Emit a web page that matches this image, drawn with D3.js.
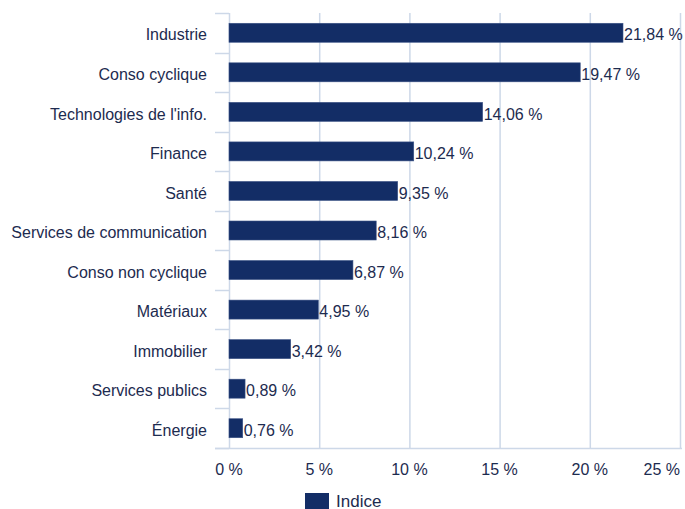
<!DOCTYPE html>
<html>
<head>
<meta charset="utf-8">
<script src="https://cdn.jsdelivr.net/npm/d3@7"></script>
<style>
  body { margin: 0; background: #fff; }
  text { font-family: "Liberation Sans", Arial, sans-serif; }
</style>
</head>
<body>
<svg id="container"></svg>
<script>
/* CONSTANTS AND GLOBALS */
const width = 685,
  height = 509,
  margin = { top: 13, right: 5, bottom: 61, left: 229 };

const navy = "#132d66",
  gridColor = "#cdd8e8",
  textColor = "#1d2b4f";

/* DATA */
const sectors = ["Industrie", "Conso cyclique", "Technologies de l'info.", "Finance", "Santé",
  "Services de communication", "Conso non cyclique", "Matériaux", "Immobilier",
  "Services publics", "Énergie"];
const weights = [21.84, 19.47, 14.06, 10.24, 9.35, 8.16, 6.87, 4.95, 3.42, 0.89, 0.76];
const xTicks = [0, 5, 10, 15, 20, 25];
const seriesName = "Indice";

const data = sectors.map((s, i) => ({ sector: s, value: weights[i] }));
const fmt = v => v.toFixed(2).replace(".", ",") + " %";

/* SCALES */
const xScale = d3.scaleLinear()
  .domain([0, 25])
  .range([margin.left, 680]);

const yScale = d3.scaleBand()
  .domain(sectors)
  .range([margin.top, 448])
  .paddingInner(0.52)
  .paddingOuter(0.26);

/* HTML ELEMENTS */
const svg = d3.select("#container")
  .attr("width", width)
  .attr("height", height);

// vertical gridlines
svg.append("g")
  .selectAll("line")
  .data(xTicks)
  .join("line")
  .attr("x1", d => xScale(d) + 0.5)
  .attr("x2", d => xScale(d) + 0.5)
  .attr("y1", margin.top)
  .attr("y2", 448)
  .attr("stroke", gridColor)
  .attr("stroke-width", 1.5);

// category boundary ticks on the left
const bounds = sectors.map(s => yScale(s) - yScale.step() * yScale.paddingInner() / 2)
  .concat([448]);
svg.append("g")
  .selectAll("line")
  .data(bounds)
  .join("line")
  .attr("x1", 215)
  .attr("x2", xScale(0))
  .attr("y1", d => Math.round(d) + 0.5)
  .attr("y2", d => Math.round(d) + 0.5)
  .attr("stroke", gridColor)
  .attr("stroke-width", 1.5);

// bottom baseline
svg.append("line")
  .attr("x1", 215)
  .attr("x2", xScale(25) + 2)
  .attr("y1", 448.5)
  .attr("y2", 448.5)
  .attr("stroke", gridColor)
  .attr("stroke-width", 1.5);

// bars
svg.append("g")
  .selectAll("rect")
  .data(data)
  .join("rect")
  .attr("x", xScale(0))
  .attr("y", d => yScale(d.sector))
  .attr("width", d => xScale(d.value) - xScale(0))
  .attr("height", yScale.bandwidth())
  .attr("fill", navy)
  .attr("stroke", "#3a5285")
  .attr("stroke-width", 0.6);

// value labels
svg.append("g")
  .selectAll("text")
  .data(data)
  .join("text")
  .attr("x", d => xScale(d.value) + 1)
  .attr("y", d => yScale(d.sector) + yScale.bandwidth() / 2)
  .attr("dy", "0.48em")
  .attr("font-size", 16)
  .attr("fill", textColor)
  .text(d => fmt(d.value));

// category labels
svg.append("g")
  .selectAll("text")
  .data(data)
  .join("text")
  .attr("x", 207)
  .attr("y", d => yScale(d.sector) + yScale.bandwidth() / 2)
  .attr("dy", "0.48em")
  .attr("text-anchor", "end")
  .attr("font-size", 16)
  .attr("fill", textColor)
  .text(d => d.sector);

// x tick labels
svg.append("g")
  .selectAll("text")
  .data(xTicks)
  .join("text")
  .attr("x", d => d === 25 ? xScale(d) : xScale(d))
  .attr("y", 475)
  .attr("text-anchor", d => d === 25 ? "end" : "middle")
  .attr("font-size", 16)
  .attr("fill", textColor)
  .text(d => d + " %");

// legend
const legend = svg.append("g");
legend.append("rect")
  .attr("x", 305)
  .attr("y", 493)
  .attr("width", 24)
  .attr("height", 16)
  .attr("fill", navy);
legend.append("text")
  .attr("x", 336)
  .attr("y", 507)
  .attr("font-size", 17)
  .attr("fill", textColor)
  .text(seriesName);
</script>
</body>
</html>
